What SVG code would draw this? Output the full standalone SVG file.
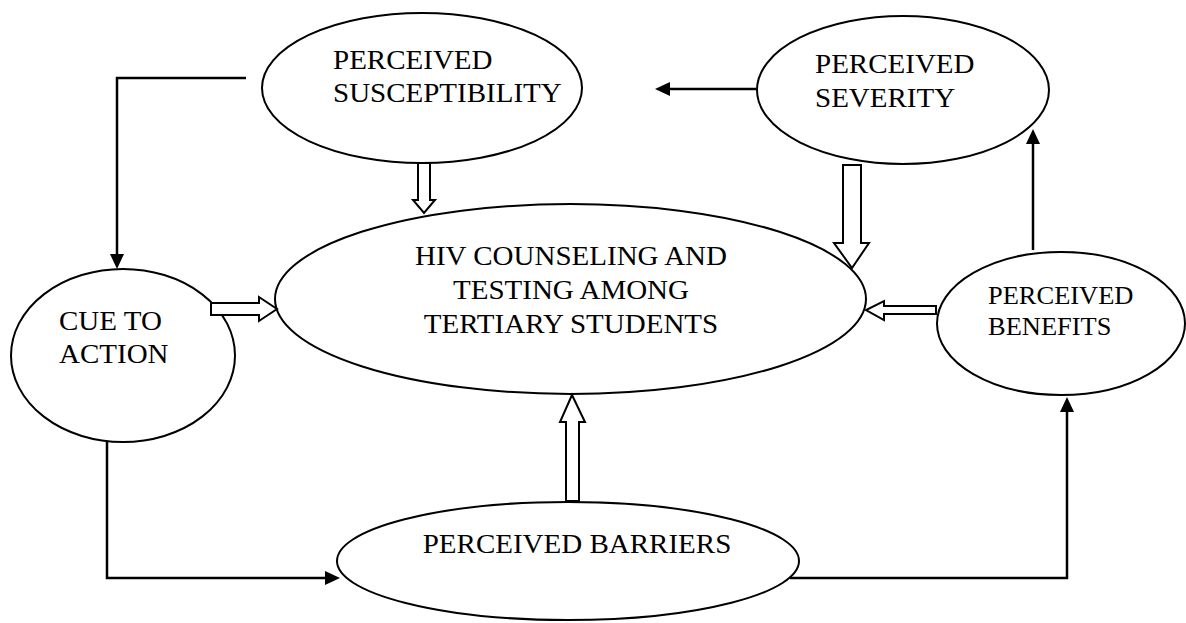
<svg xmlns="http://www.w3.org/2000/svg" width="1186" height="623" viewBox="0 0 1186 623">
<style>
.node ellipse{fill:#fff;stroke:#000;stroke-width:2}
.lbl{font-family:"Liberation Serif","Times New Roman",serif;font-size:27.5px;fill:#000}
.lbs{font-family:"Liberation Serif","Times New Roman",serif;font-size:24.5px;fill:#000}
.conn path.line{fill:none;stroke:#000;stroke-width:2.5}
.conn polygon.hollow{fill:#fff;stroke:#000;stroke-width:2;stroke-linejoin:miter}
</style>
<defs>
<marker id="ah" markerWidth="15" markerHeight="14" refX="0" refY="7" orient="auto" markerUnits="userSpaceOnUse">
<path d="M0,0 L15,7 L0,14 Z" fill="#000"/>
</marker>
</defs>
<rect width="1186" height="623" fill="#fff"/>
<g id="susceptibility" class="node">
<ellipse cx="422" cy="88" rx="160" ry="75"/>
<text class="lbl" transform="translate(333,69) scale(1.055,1)"><tspan x="0" y="0">PERCEIVED</tspan><tspan x="0" y="33">SUSCEPTIBILITY</tspan></text>
</g>
<g id="severity" class="node">
<ellipse cx="903" cy="90" rx="146" ry="74"/>
<text class="lbl" transform="translate(815,73) scale(1.055,1)"><tspan x="0" y="0">PERCEIVED</tspan><tspan x="0" y="34">SEVERITY</tspan></text>
</g>
<g id="hct" class="node">
<ellipse cx="570.5" cy="299" rx="295.5" ry="95"/>
<text class="lbl" text-anchor="middle" transform="translate(571,265) scale(1.055,1)"><tspan x="0" y="0">HIV COUNSELING AND</tspan><tspan x="0" y="34">TESTING AMONG</tspan><tspan x="0" y="68">TERTIARY STUDENTS</tspan></text>
</g>
<g id="cue" class="node">
<ellipse cx="123" cy="355.5" rx="112" ry="86.5"/>
<text class="lbl" transform="translate(59,330) scale(1.055,1)"><tspan x="0" y="0">CUE TO</tspan><tspan x="0" y="33">ACTION</tspan></text>
</g>
<g id="benefits" class="node">
<ellipse cx="1061" cy="323.5" rx="124" ry="71.5"/>
<text class="lbs" transform="translate(988,304) scale(1.08,1)"><tspan x="0" y="0">PERCEIVED</tspan><tspan x="0" y="31">BENEFITS</tspan></text>
</g>
<g id="barriers" class="node">
<ellipse cx="568" cy="561" rx="231" ry="59"/>
<text class="lbl" text-anchor="middle" transform="translate(577,553) scale(1.055,1)"><tspan x="0" y="0">PERCEIVED BARRIERS</tspan></text>
</g>
<g id="connectors" class="conn">
<path class="line" d="M246,78 H117 V254" marker-end="url(#ah)"/>
<path class="line" d="M107,441 V578 H325" marker-end="url(#ah)"/>
<path class="line" d="M790,578 H1067 V412" marker-end="url(#ah)"/>
<path class="line" d="M1033,250 V144" marker-end="url(#ah)"/>
<path class="line" d="M757,89 H670" marker-end="url(#ah)"/>
<polygon class="hollow" points="418,163 430,163 430,200 435,200 424,213 413,200 418,200"/>
<polygon class="hollow" points="843,165 861,165 861,243 869,243 852,268 834,243 843,243"/>
<polygon class="hollow" points="211,303 259,303 259,297 277,309 259,321 259,315 211,315"/>
<polygon class="hollow" points="936,306 884,306 884,301 866,310 884,320 884,314 936,314"/>
<polygon class="hollow" points="566,501 566,422 560,422 572,395 585,422 579,422 579,501"/>
</g>
</svg>
